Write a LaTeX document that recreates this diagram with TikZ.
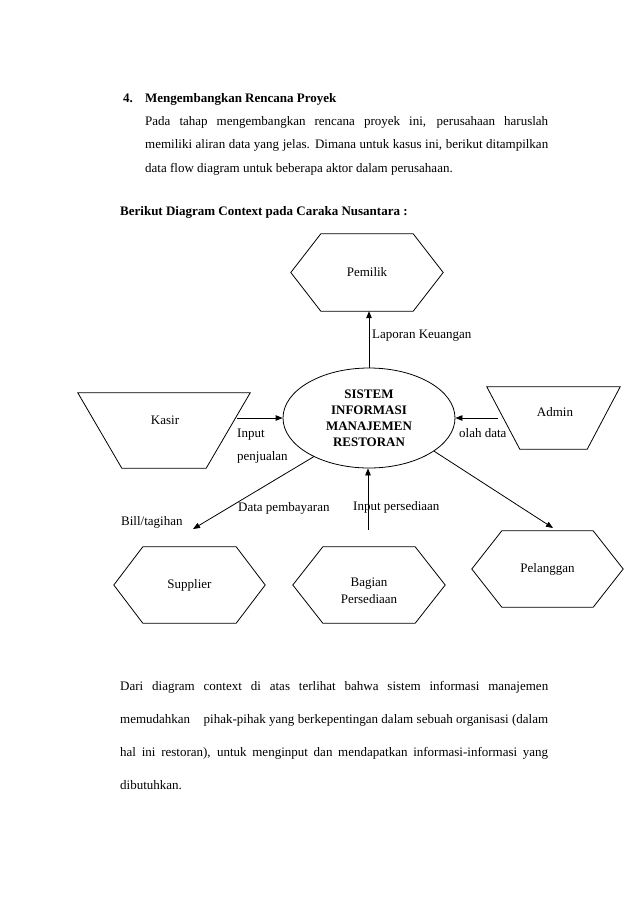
\documentclass[tikz,border=0pt]{standalone}
\usepackage{fontspec}
\setmainfont{Liberation Serif}
\usetikzlibrary{arrows.meta,shapes.geometric,calc}
\newcommand{\hexdraw}[2]{%
  \draw[shapeline] (#1.west) -- ([xshift=#2]#1.north west) -- ([xshift=-#2]#1.north east)
    -- (#1.east) -- ([xshift=-#2]#1.south east) -- ([xshift=#2]#1.south west) -- cycle;}
\newcommand{\trapdraw}[2]{%
  \draw[shapeline] (#1.north west) -- (#1.north east) -- ([xshift=-#2]#1.south east)
    -- ([xshift=#2]#1.south west) -- cycle;}
\newcommand{\jline}[2]{\makebox[#1][s]{#2}}
\begin{document}
\begin{tikzpicture}[x=1pt,y=-1pt,
  every node/.style={inner sep=0pt, font=\fontsize{13}{15}\selectfont},
  shapeline/.style={draw=black, line width=0.8pt, line join=miter},
  flow/.style={draw=black, line width=0.8pt, -{Triangle[length=7pt,width=5.5pt]}},
  txt/.style={anchor=base west}
]
\useasboundingbox[fill=white] (0,0) rectangle (638,903);

% ---- heading text ----
\node[txt] (num) at (123,102) {\bfseries 4.};
\node[txt] (title) at (145,102) {\bfseries Mengembangkan Rencana Proyek};
\node[txt] (p1a) at (145,125) {\jline{403pt}{Pada tahap mengembangkan rencana proyek ini, perusahaan haruslah}};
\node[txt] (p1b) at (145,148.5) {\jline{403pt}{memiliki aliran data yang jelas. Dimana untuk kasus ini, berikut ditampilkan}};
\node[txt] (p1c) at (145,172) {data flow diagram untuk beberapa aktor dalam perusahaan.};
\node[txt] (berikut) at (120,215) {\bfseries Berikut Diagram Context pada Caraka Nusantara :};

% ---- diagram shapes ----
\node[minimum width=152pt, minimum height=77pt] (pemilik) at (367,272.5) {Pemilik};
\hexdraw{pemilik}{30pt}

\node[draw, ellipse, line width=0.8pt, minimum width=172pt, minimum height=100pt,
      align=center, font=\bfseries\fontsize{13}{16}\selectfont] (sim) at (369,418)
      {SISTEM\\INFORMASI\\MANAJEMEN\\RESTORAN};

\node[minimum width=172pt, minimum height=75pt] (kasir) at (164,430.5) {};
\trapdraw{kasir}{44pt}
\node (kasirT) at (165,420) {Kasir};

\node[minimum width=133pt, minimum height=62pt] (admin) at (553.5,418) {};
\trapdraw{admin}{33pt}
\node (adminT) at (555,412) {Admin};

\node[minimum width=151pt, minimum height=76pt] (supplier) at (189.5,585) {Supplier};
\hexdraw{supplier}{29pt}

\node[minimum width=152pt, minimum height=76pt] (bagian) at (369,585) {};
\hexdraw{bagian}{30pt}
\node[align=center, font=\fontsize{13}{17}\selectfont] (bagianT) at (369,591) {Bagian\\Persediaan};

\node[minimum width=151pt, minimum height=76pt] (pelanggan) at (547.5,569) {Pelanggan};
\hexdraw{pelanggan}{30pt}

% ---- connectors ----
\draw[flow] (sim.north) -- (sim.north |- pemilik.south);
\coordinate (kasirOut) at (237,418);
\draw[flow] (kasirOut) -- (kasirOut -| sim.west);
\coordinate (adminOut) at (498,418);
\draw[flow] (adminOut) -- (adminOut -| sim.east);
\coordinate (billTip) at (193,529);
\draw[flow] (sim.215) -- (billTip);
\coordinate (bagianOut) at (368,530);
\draw[flow] (bagianOut) -- (bagianOut |- sim.south);
\coordinate (pelTip) at (553,528);
\draw[flow] (sim.333) -- (pelTip);

% ---- connector labels ----
\node[txt] (lapLbl) at (372,338) {Laporan Keuangan};
\node[txt] (inLbl) at (237,437) {Input};
\node[txt] (pjLbl) at (237,460) {penjualan};
\node[txt] (olahLbl) at (459,437) {olah data};
\node[txt] (dpLbl) at (238,511) {Data pembayaran};
\node[txt] (billLbl) at (121,525) {Bill/tagihan};
\node[txt] (ipLbl) at (353,510) {Input persediaan};

% ---- closing paragraph ----
\node[txt] (p2a) at (120,690) {\jline{428pt}{Dari diagram context di atas terlihat bahwa sistem informasi manajemen}};
\node[txt] (p2b) at (120,723) {\jline{428pt}{memudahkan\hspace{10pt} pihak-pihak yang berkepentingan dalam sebuah organisasi (dalam}};
\node[txt] (p2c) at (120,756) {\jline{428pt}{hal ini restoran), untuk menginput dan mendapatkan informasi-informasi yang}};
\node[txt] (p2d) at (120,789) {dibutuhkan.};
\end{tikzpicture}
\end{document}
